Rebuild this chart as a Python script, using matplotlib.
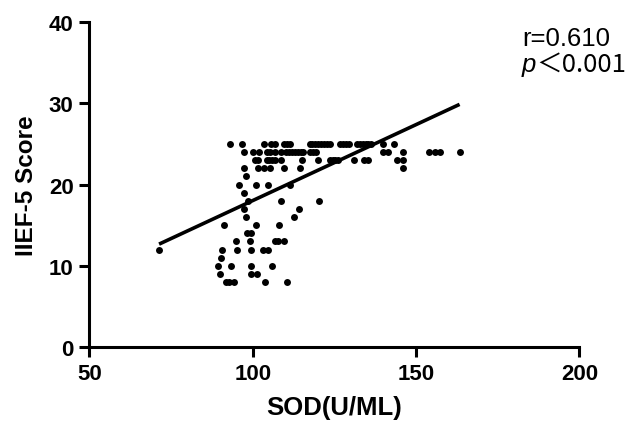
import matplotlib
matplotlib.use("Agg")
import matplotlib.pyplot as plt
import numpy as np

# Data (SOD, IIEF-5 score)
sod_25 = [93.1, 96.6, 103.3, 105.5, 106.8, 109.4, 110.5, 111.4, 117.5, 118.2, 119.1, 120.0,
          121.0, 121.8, 122.7, 123.6, 126.7, 127.6, 128.4, 129.3, 131.9, 132.8, 133.7, 134.5,
          135.4, 136.3, 139.8, 143.2]
sod_24 = [97.4, 100.0, 101.8, 104.4, 105.3, 106.8, 108.5, 110.3, 111.1, 112.0, 112.9, 113.7,
          114.6, 115.5, 117.5, 118.3, 119.2, 139.8, 141.5, 145.9, 154.0, 155.7, 157.4, 163.3]
sod_23 = [100.7, 101.5, 104.2, 105.0, 105.9, 106.8, 108.5, 115.2, 120.1, 123.6, 124.4, 125.3,
          126.2, 131.0, 134.0, 135.4, 144.1, 145.9]
sod_22 = [97.4, 101.5, 103.5, 105.3, 109.4, 114.4, 145.9]
sod_21 = [97.9]
sod_20 = [95.7, 100.9, 104.6, 111.4]
sod_19 = [97.4]
sod_18 = [98.5, 108.5, 120.3]
sod_17 = [97.2, 114.2]
sod_16 = [97.9, 112.5]
sod_15 = [91.1, 100.9, 108.1]
sod_14 = [98.3, 99.5]
sod_13 = [94.8, 99.2, 106.8, 107.6, 109.4]
sod_12 = [71.3, 90.5, 95.3, 99.4, 103.2, 104.6]
sod_11 = [90.2]
sod_10 = [89.3, 93.3, 99.5, 105.8]
sod_9 = [90.0, 99.4, 101.3]
sod_8 = [91.7, 92.8, 94.3, 103.8, 110.5]

rows = {25: sod_25, 24: sod_24, 23: sod_23, 22: sod_22, 21: sod_21, 20: sod_20,
        19: sod_19, 18: sod_18, 17: sod_17, 16: sod_16, 15: sod_15, 14: sod_14,
        13: sod_13, 12: sod_12, 11: sod_11, 10: sod_10, 9: sod_9, 8: sod_8}

sod = np.concatenate([np.array(v, float) for v in rows.values()])
score = np.concatenate([np.full(len(v), k, float) for k, v in rows.items()])

# Regression line
fit_slope = 0.187
fit_intercept = -0.67

x_ticks = [50, 100, 150, 200]
y_ticks = [0, 10, 20, 30, 40]

plt.rcParams['font.family'] = ['Liberation Sans', 'DejaVu Sans']

fig = plt.figure(figsize=(6.37, 4.35), dpi=100)
ax = fig.add_axes([0.1405, 0.2, 0.7692, 0.747])

ax.plot(sod, score, 'o', color='black', markersize=5.0, markeredgewidth=0, clip_on=False)
xl = np.array([sod.min(), sod.max()])
ax.plot(xl, fit_slope * xl + fit_intercept, color='black', linewidth=2.6, solid_capstyle='butt')

ax.set_xlim(50, 200)
ax.set_ylim(0, 40)
ax.set_xticks(x_ticks)
ax.set_yticks(y_ticks)
for s in ['top', 'right']:
    ax.spines[s].set_visible(False)
for s in ['left', 'bottom']:
    ax.spines[s].set_linewidth(2.2)
ax.tick_params(axis='both', which='major', length=7.5, width=2.2, direction='out',
               labelsize=16, pad=4)
for lab in ax.get_xticklabels() + ax.get_yticklabels():
    lab.set_fontweight('bold')

ax.set_xlabel('SOD(U/ML)', fontsize=18.5, fontweight='bold', labelpad=8)
ax.set_ylabel('IIEF-5 Score', fontsize=17.5, fontweight='bold', labelpad=8)

# Annotation (positions in figure pixels)
W, H = 637, 435
fig.text(522 / W, 1 - 46 / H, 'r=0.610', fontsize=18.5, ha='left', va='baseline')
fig.text(522 / W, 1 - 72 / H, 'p', fontsize=18.5, style='italic', ha='left', va='baseline')
fig.text(536.5 / W, 1 - 72 / H, '＜0.001', fontsize=18.5, ha='left', va='baseline',
         family=['Noto Sans CJK SC', 'DejaVu Sans'])

fig.savefig('out.png', dpi=100, facecolor='white')
